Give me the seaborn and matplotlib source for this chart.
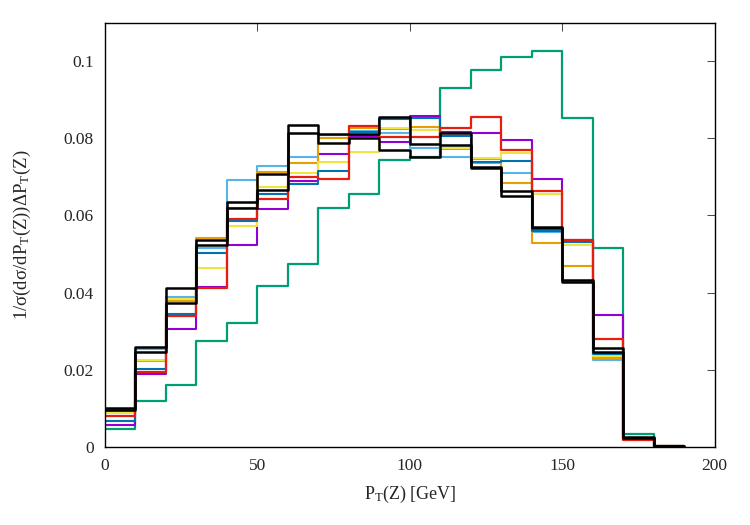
import numpy as np
import pandas as pd
import matplotlib
matplotlib.use("Agg")
import matplotlib.pyplot as plt
import seaborn as sns

# bin edges of the P_T(Z) histogram (GeV)
edges = list(range(0, 200, 10))
centers = [e + 5 for e in edges[:-1]]

# normalised distributions, one per curve
green = [0.0046, 0.0119, 0.0160, 0.0275, 0.0320, 0.0418, 0.0474, 0.0619, 0.0655, 0.0744,
         0.0752, 0.0930, 0.0977, 0.1010, 0.1026, 0.0852, 0.0516, 0.0034, 0.0002]
purple = [0.0056, 0.0188, 0.0305, 0.0414, 0.0522, 0.0617, 0.0689, 0.0758, 0.0805, 0.0791,
          0.0858, 0.0815, 0.0814, 0.0795, 0.0694, 0.0536, 0.0342, 0.0020, 0.0002]
lightblue = [0.0093, 0.0253, 0.0389, 0.0515, 0.0693, 0.0729, 0.0752, 0.0808, 0.0820, 0.0814,
             0.0774, 0.0752, 0.0735, 0.0709, 0.0556, 0.0530, 0.0224, 0.0022, 0.0002]
orange = [0.0090, 0.0222, 0.0378, 0.0541, 0.0620, 0.0713, 0.0737, 0.0800, 0.0826, 0.0825,
          0.0830, 0.0772, 0.0745, 0.0683, 0.0528, 0.0470, 0.0231, 0.0022, 0.0002]
yellow = [0.0088, 0.0226, 0.0383, 0.0463, 0.0573, 0.0673, 0.0709, 0.0739, 0.0765, 0.0827,
          0.0821, 0.0775, 0.0748, 0.0762, 0.0655, 0.0522, 0.0235, 0.0020, 0.0002]
blue = [0.0068, 0.0202, 0.0344, 0.0502, 0.0586, 0.0655, 0.0681, 0.0715, 0.0815, 0.0849,
        0.0852, 0.0805, 0.0739, 0.0742, 0.0560, 0.0532, 0.0240, 0.0022, 0.0002]
red = [0.0080, 0.0194, 0.0339, 0.0411, 0.0591, 0.0642, 0.0700, 0.0694, 0.0832, 0.0802,
       0.0804, 0.0827, 0.0856, 0.0769, 0.0664, 0.0536, 0.0280, 0.0018, 0.0002]
black = [0.0100, 0.0260, 0.0411, 0.0536, 0.0636, 0.0707, 0.0834, 0.0811, 0.0812, 0.0856,
         0.0784, 0.0813, 0.0726, 0.0664, 0.0571, 0.0433, 0.0257, 0.0025, 0.0003]
black2 = [0.0095, 0.0245, 0.0372, 0.0523, 0.0620, 0.0666, 0.0813, 0.0787, 0.0800, 0.0769,
          0.0752, 0.0782, 0.0722, 0.0650, 0.0567, 0.0426, 0.0247, 0.0022, 0.0002]

series = [
    (green, '#009e73', 1.6),
    (purple, '#9400d3', 1.5),
    (lightblue, '#56b4e9', 1.5),
    (orange, '#e69f00', 1.5),
    (yellow, '#f0e442', 1.5),
    (blue, '#0072b2', 1.5),
    (red, '#e51e10', 1.6),
    (black2, '#000000', 1.8),
    (black, '#000000', 1.8),
]

sns.set_style("white")
plt.rcParams['font.family'] = ['Liberation Serif', 'DejaVu Serif']
plt.rcParams['mathtext.fontset'] = 'custom'
plt.rcParams['mathtext.rm'] = 'Liberation Serif'
plt.rcParams['mathtext.it'] = 'Liberation Serif:italic'

fig = plt.figure(figsize=(7.5, 5.25), dpi=100)
ax = fig.add_axes([0.14, 0.149, 0.813, 0.808])

for vals, color, lw in series:
    df = pd.DataFrame({'pt': centers, 'w': vals})
    sns.histplot(data=df, x='pt', weights='w', bins=edges, element='step',
                 fill=False, color=color, linewidth=lw, ax=ax)

ax.set_xlim(0, 200)
ax.set_ylim(0, 0.11)
ax.set_xticks([0, 50, 100, 150, 200])
ax.set_yticks([0, 0.02, 0.04, 0.06, 0.08, 0.1])
ax.set_yticklabels(['0', '0.02', '0.04', '0.06', '0.08', '0.1'])
ax.tick_params(direction='in', length=6, width=0.6, top=True, right=True,
               labelsize=12.5, pad=8)
for sp in ax.spines.values():
    sp.set_color('black')
    sp.set_linewidth(1.0)

ax.set_xlabel(r'P$_\mathrm{T}$(Z) [GeV]', fontsize=13, labelpad=7)
ax.set_ylabel(r'1/σ(dσ/dP$_\mathrm{T}$(Z))ΔP$_\mathrm{T}$(Z)', fontsize=13.5, labelpad=22)

fig.savefig('out.png', dpi=100)
